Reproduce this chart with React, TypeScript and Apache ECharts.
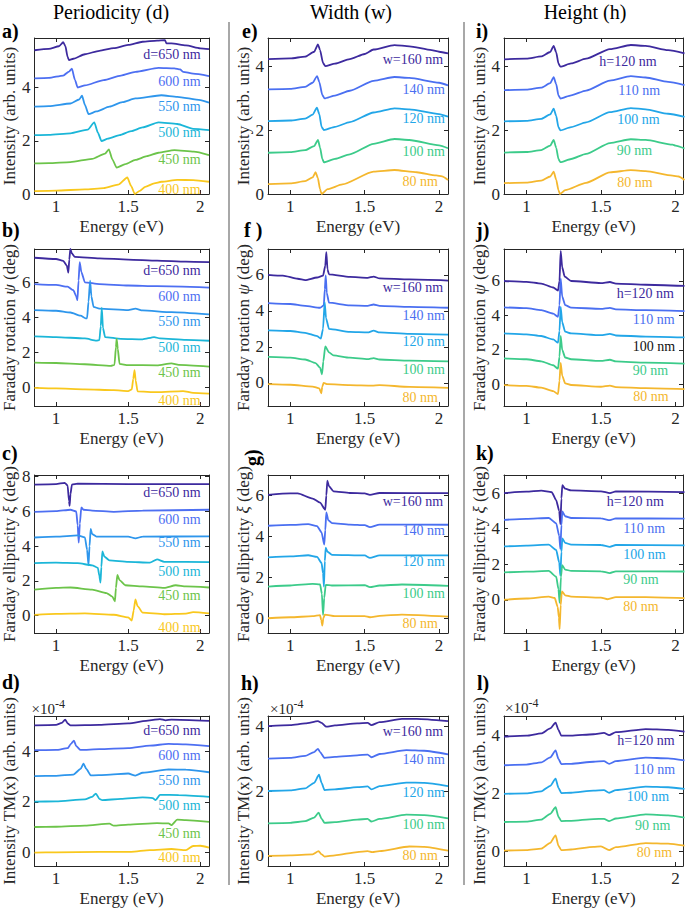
import React, { useEffect, useRef } from "react";
import * as echarts from "echarts";

const FONT = "Liberation Serif";
const INK = "#262626";

// ---------- tick labels / categories ----------
const xTicks = [1, 1.5, 2];
const yTicksInt = [0, 2, 4];
const yTicksFar = [0, 2, 4, 6];
const yTicksEllD = [0, 2, 4, 6, 8];
const dLabels = ["d=650 nm", "600 nm", "550 nm", "500 nm", "450 nm", "400 nm"];
const wLabels = ["w=160 nm", "140 nm", "120 nm", "100 nm", "80 nm"];
const hLabels = ["h=120 nm", "110 nm", "100 nm", "90 nm", "80 nm"];
const colTitles = ["Periodicity (d)", "Width (w)", "Height (h)"];
const colors6 = ["#3d2a9e", "#4d6ff2", "#2e96ec", "#1bb6d8", "#6cc44a", "#f9c81d"];
const colors5 = ["#3d2a9e", "#4a6ff1", "#22a6e8", "#3ccb8a", "#f4b72e"];

// ---------- panel a: intensity vs periodicity ----------
const a650 = [[0.85,5.4],[0.95,5.45],[1.02,5.55],[1.05,5.7],[1.065,5.55],[1.08,5.15],[1.09,5.03],[1.12,5.08],[1.2,5.25],[1.3,5.38],[1.4,5.48],[1.5,5.6],[1.6,5.72],[1.7,5.76],[1.755,5.78],[1.765,5.66],[1.8,5.66],[1.9,5.58],[2.0,5.47],[2.06,5.44]];
const a600 = [[0.85,4.34],[0.95,4.36],[1.05,4.45],[1.09,4.6],[1.11,4.71],[1.13,4.3],[1.15,4.0],[1.2,4.08],[1.33,4.28],[1.45,4.45],[1.55,4.59],[1.71,4.74],[1.82,4.72],[1.86,4.68],[1.88,4.59],[1.95,4.52],[2.06,4.43]];
const a550 = [[0.85,3.28],[0.95,3.3],[1.1,3.4],[1.16,3.55],[1.18,3.69],[1.2,3.35],[1.225,3.0],[1.28,3.1],[1.37,3.28],[1.46,3.45],[1.55,3.59],[1.73,3.71],[1.84,3.65],[2.0,3.53],[2.06,3.43]];
const a500 = [[0.85,2.21],[0.95,2.22],[1.1,2.28],[1.22,2.42],[1.265,2.69],[1.29,2.3],[1.315,1.99],[1.36,2.08],[1.44,2.21],[1.52,2.36],[1.6,2.5],[1.71,2.69],[1.84,2.63],[1.95,2.45],[2.06,2.4]];
const a450 = [[0.85,1.15],[0.95,1.16],[1.1,1.2],[1.25,1.32],[1.34,1.52],[1.366,1.68],[1.39,1.3],[1.42,0.99],[1.48,1.12],[1.55,1.28],[1.63,1.42],[1.71,1.55],[1.82,1.65],[1.955,1.59],[2.06,1.46]];
const a400 = [[0.85,0.11],[1.0,0.13],[1.2,0.17],[1.33,0.22],[1.43,0.35],[1.494,0.62],[1.52,0.3],[1.546,0.0],[1.58,0.12],[1.618,0.27],[1.68,0.4],[1.73,0.46],[1.84,0.53],[1.95,0.52],[2.06,0.46]];

// ---------- panel b: Faraday rotation vs periodicity ----------
const b650 = [[0.85,7.4],[1.0,7.33],[1.05,7.22],[1.075,6.95],[1.085,6.55],[1.092,7.3],[1.099,7.9],[1.11,7.65],[1.13,7.45],[1.3,7.37],[1.5,7.3],[1.7,7.24],[1.9,7.18],[2.06,7.15]];
const b600 = [[0.85,5.9],[1.0,5.85],[1.08,5.75],[1.12,5.55],[1.14,5.2],[1.148,4.98],[1.156,6.1],[1.164,7.15],[1.175,6.6],[1.2,6.0],[1.3,5.9],[1.5,5.82],[1.7,5.78],[2.06,5.7]];
const b550 = [[0.85,4.42],[1.0,4.38],[1.1,4.28],[1.17,4.1],[1.205,3.95],[1.215,3.95],[1.225,4.9],[1.236,6.1],[1.245,5.2],[1.26,4.6],[1.3,4.5],[1.5,4.42],[1.55,4.5],[1.6,4.4],[1.8,4.3],[2.06,4.17]];
const b500 = [[0.85,2.92],[1.0,2.88],[1.2,2.8],[1.28,2.68],[1.3,2.7],[1.31,3.5],[1.317,4.55],[1.325,3.4],[1.34,2.88],[1.45,2.78],[1.6,2.75],[1.68,2.88],[1.72,2.8],[1.9,2.72],[2.06,2.67]];
const b450 = [[0.85,1.42],[1.0,1.4],[1.2,1.33],[1.38,1.24],[1.405,1.3],[1.415,2.3],[1.42,2.78],[1.428,2.2],[1.44,1.35],[1.5,1.28],[1.7,1.27],[1.8,1.38],[1.85,1.3],[2.06,1.2]];
const b400 = [[0.85,-0.02],[1.0,-0.05],[1.2,-0.1],[1.4,-0.15],[1.5,-0.2],[1.525,-0.1],[1.535,0.5],[1.544,1.0],[1.552,0.4],[1.565,-0.22],[1.7,-0.26],[1.88,-0.2],[1.95,-0.3],[2.06,-0.35]];

// ---------- panel c: Faraday ellipticity vs periodicity ----------
const c650 = [[0.85,7.55],[1.0,7.58],[1.06,7.65],[1.08,7.5],[1.09,6.6],[1.094,6.32],[1.1,7.0],[1.11,7.55],[1.15,7.6],[1.5,7.58],[2.06,7.58]];
const c600 = [[0.85,5.98],[1.0,6.02],[1.1,6.1],[1.14,6.0],[1.15,5.2],[1.157,4.2],[1.165,5.3],[1.175,6.23],[1.19,6.1],[1.25,6.05],[1.4,5.98],[1.6,6.05],[2.06,6.1]];
const c550 = [[0.85,4.5],[1.0,4.55],[1.15,4.62],[1.2,4.5],[1.215,3.8],[1.225,2.9],[1.232,4.0],[1.24,4.99],[1.25,4.7],[1.28,4.55],[1.5,4.55],[1.55,4.45],[1.6,4.55],[2.06,4.57]];
const c500 = [[0.85,3.03],[1.0,3.05],[1.15,3.02],[1.25,2.9],[1.29,2.75],[1.3,2.3],[1.308,1.9],[1.314,2.8],[1.321,3.7],[1.335,3.4],[1.37,3.18],[1.5,3.1],[1.65,3.05],[1.7,3.24],[1.75,3.1],[2.06,3.08]];
const c450 = [[0.85,1.5],[1.0,1.6],[1.1,1.62],[1.25,1.5],[1.35,1.3],[1.39,1.1],[1.408,0.82],[1.415,1.6],[1.425,2.35],[1.44,2.05],[1.48,1.75],[1.6,1.68],[1.75,1.6],[1.83,1.75],[1.9,1.68],[2.06,1.62]];
const c400 = [[0.85,0.04],[1.0,0.1],[1.2,0.13],[1.4,0.05],[1.5,-0.1],[1.525,-0.28],[1.538,0.3],[1.55,0.93],[1.565,0.55],[1.6,0.17],[1.75,0.08],[1.9,0.12],[1.95,0.2],[2.06,0.13]];

// ---------- panel d: TM(x) intensity vs periodicity (x1e-4) ----------
const d650 = [[0.85,5.02],[1.0,5.04],[1.04,5.12],[1.063,5.25],[1.08,5.1],[1.1,5.02],[1.3,5.04],[1.5,5.1],[1.65,5.22],[1.72,5.27],[1.76,5.22],[1.8,5.25],[2.06,5.2]];
const d600 = [[0.85,4.04],[1.0,4.05],[1.08,4.12],[1.105,4.3],[1.124,4.42],[1.14,4.2],[1.17,4.05],[1.3,4.08],[1.5,4.12],[1.65,4.22],[1.78,4.29],[1.9,4.27],[2.06,4.2]];
const d550 = [[0.85,3.02],[1.0,3.03],[1.12,3.08],[1.17,3.3],[1.19,3.51],[1.21,3.3],[1.24,3.05],[1.35,3.07],[1.5,3.12],[1.55,3.04],[1.6,3.15],[1.78,3.28],[1.9,3.27],[2.06,3.17]];
const d500 = [[0.85,2.01],[1.0,2.02],[1.2,2.1],[1.25,2.2],[1.276,2.33],[1.3,2.12],[1.32,2.07],[1.45,2.12],[1.6,2.18],[1.67,2.15],[1.69,2.07],[1.72,2.28],[1.85,2.27],[2.06,2.2]];
const d450 = [[0.85,1.01],[1.0,1.02],[1.2,1.06],[1.37,1.14],[1.4,1.06],[1.5,1.1],[1.7,1.16],[1.78,1.15],[1.8,1.08],[1.84,1.3],[1.9,1.28],[2.06,1.21]];
const d400 = [[0.85,0.0],[1.0,0.01],[1.3,0.03],[1.52,0.03],[1.65,0.1],[1.8,0.14],[1.9,0.1],[1.95,0.26],[2.0,0.27],[2.06,0.2]];

// ---------- panel e: intensity vs width ----------
const e160 = [[0.85,4.22],[1.0,4.24],[1.1,4.3],[1.16,4.45],[1.186,4.68],[1.2,4.5],[1.22,4.1],[1.235,4.0],[1.3,4.08],[1.4,4.22],[1.5,4.38],[1.56,4.52],[1.7,4.66],[1.8,4.62],[1.95,4.5],[2.0,4.45],[2.06,4.4]];
const e140 = [[0.85,3.27],[1.0,3.29],[1.1,3.35],[1.15,3.48],[1.18,3.69],[1.195,3.5],[1.215,3.1],[1.23,2.99],[1.3,3.08],[1.4,3.23],[1.56,3.54],[1.7,3.66],[1.8,3.63],[2.0,3.48],[2.06,3.4]];
const e120 = [[0.85,2.28],[1.0,2.3],[1.1,2.36],[1.15,2.48],[1.179,2.7],[1.195,2.5],[1.21,2.1],[1.226,2.0],[1.3,2.1],[1.4,2.25],[1.56,2.55],[1.7,2.68],[1.8,2.65],[2.0,2.5],[2.06,2.42]];
const e100 = [[0.85,1.29],[1.0,1.31],[1.1,1.37],[1.16,1.5],[1.186,1.69],[1.2,1.45],[1.215,1.1],[1.226,0.99],[1.3,1.1],[1.4,1.24],[1.56,1.57],[1.7,1.72],[1.8,1.69],[2.0,1.52],[2.06,1.43]];
const e80 = [[0.85,0.31],[1.0,0.33],[1.1,0.4],[1.15,0.52],[1.17,0.68],[1.185,0.5],[1.2,0.15],[1.21,0.0],[1.25,0.15],[1.35,0.3],[1.56,0.7],[1.7,0.75],[1.85,0.68],[1.98,0.58],[2.02,0.55],[2.06,0.44]];

// ---------- panel f: Faraday rotation vs width ----------
const f160 = [[0.85,6.0],[0.95,5.95],[1.05,5.78],[1.1,5.7],[1.18,5.85],[1.22,5.95],[1.235,6.5],[1.242,7.25],[1.25,6.3],[1.26,6.02],[1.4,5.88],[1.52,5.83],[1.56,5.9],[1.6,5.8],[1.8,5.74],[2.06,5.68]];
const f140 = [[0.85,4.43],[1.0,4.38],[1.1,4.28],[1.2,4.17],[1.225,4.3],[1.232,5.2],[1.238,5.96],[1.245,5.0],[1.26,4.45],[1.4,4.3],[1.52,4.28],[1.56,4.35],[1.6,4.28],[1.8,4.22],[2.06,4.17]];
const f120 = [[0.85,2.92],[1.0,2.88],[1.1,2.78],[1.18,2.6],[1.205,2.46],[1.22,3.0],[1.231,4.48],[1.24,3.6],[1.26,3.0],[1.4,2.83],[1.52,2.8],[1.56,2.9],[1.6,2.8],[1.8,2.72],[2.06,2.68]];
const f100 = [[0.85,1.44],[1.0,1.4],[1.1,1.3],[1.17,1.1],[1.2,0.85],[1.213,0.48],[1.222,1.2],[1.235,2.03],[1.26,1.7],[1.29,1.53],[1.4,1.4],[1.52,1.32],[1.56,1.38],[1.6,1.3],[1.8,1.24],[2.06,1.2]];
const f80 = [[0.85,-0.07],[1.0,-0.1],[1.15,-0.2],[1.195,-0.3],[1.208,-0.58],[1.215,-0.2],[1.224,0.0],[1.25,-0.07],[1.4,-0.12],[1.55,-0.15],[1.6,-0.12],[1.8,-0.22],[2.06,-0.27]];

// ---------- panel g: Faraday ellipticity vs width ----------
const g160 = [[0.85,6.03],[1.0,6.1],[1.05,6.1],[1.15,5.85],[1.2,5.65],[1.235,5.3],[1.242,6.0],[1.249,6.73],[1.26,6.45],[1.29,6.2],[1.4,6.12],[1.5,6.1],[1.535,6.03],[1.6,6.12],[2.06,6.11]];
const g140 = [[0.85,4.52],[1.0,4.56],[1.12,4.6],[1.18,4.5],[1.21,4.2],[1.228,3.6],[1.235,4.3],[1.242,5.17],[1.255,4.8],[1.28,4.65],[1.4,4.58],[1.5,4.55],[1.535,4.45],[1.6,4.58],[2.06,4.57]];
const g120 = [[0.85,2.98],[1.0,3.02],[1.12,3.08],[1.18,3.0],[1.21,2.7],[1.22,2.2],[1.226,1.55],[1.232,2.8],[1.238,3.45],[1.25,3.25],[1.28,3.1],[1.5,3.07],[1.535,2.95],[1.6,3.07],[2.06,3.07]];
const g100 = [[0.85,1.55],[1.0,1.6],[1.15,1.68],[1.2,1.65],[1.212,1.2],[1.22,0.16],[1.228,1.0],[1.238,1.63],[1.28,1.6],[1.5,1.62],[1.535,1.52],[1.6,1.6],[1.75,1.65],[2.06,1.58]];
const g80 = [[0.85,0.0],[1.0,0.05],[1.15,0.1],[1.2,0.15],[1.208,-0.1],[1.215,-0.36],[1.222,0.0],[1.232,0.18],[1.3,0.1],[1.5,0.1],[1.535,0.05],[1.6,0.12],[1.75,0.18],[2.06,0.08]];

// ---------- panel h: TM(x) intensity vs width (x1e-4) ----------
const h160 = [[0.85,4.0],[1.0,4.03],[1.1,4.08],[1.186,4.15],[1.21,4.1],[1.242,3.98],[1.3,4.02],[1.45,4.08],[1.52,4.1],[1.545,4.03],[1.6,4.12],[1.75,4.22],[1.85,4.22],[2.06,4.15]];
const h140 = [[0.85,3.0],[1.0,3.02],[1.1,3.08],[1.16,3.2],[1.186,3.3],[1.2,3.2],[1.23,3.02],[1.3,3.05],[1.45,3.1],[1.52,3.12],[1.545,3.04],[1.6,3.14],[1.78,3.26],[1.9,3.24],[2.06,3.13]];
const h120 = [[0.85,2.0],[1.0,2.02],[1.1,2.08],[1.16,2.25],[1.193,2.5],[1.21,2.25],[1.23,2.03],[1.3,2.05],[1.45,2.12],[1.52,2.14],[1.545,2.05],[1.6,2.15],[1.78,2.26],[1.9,2.25],[2.06,2.15]];
const h100 = [[0.85,1.0],[1.0,1.02],[1.1,1.07],[1.16,1.18],[1.19,1.33],[1.21,1.15],[1.23,1.02],[1.3,1.04],[1.45,1.12],[1.52,1.14],[1.545,1.06],[1.6,1.14],[1.78,1.27],[1.9,1.26],[2.06,1.16]];
const h80 = [[0.85,0.0],[1.0,0.02],[1.15,0.05],[1.19,0.15],[1.21,0.05],[1.23,-0.02],[1.3,0.02],[1.45,0.12],[1.52,0.15],[1.55,0.12],[1.6,0.15],[1.8,0.29],[1.9,0.28],[2.06,0.16]];

// ---------- panel i: intensity vs height ----------
const i120 = [[0.85,4.23],[1.0,4.25],[1.1,4.32],[1.16,4.46],[1.183,4.65],[1.2,4.45],[1.215,4.1],[1.228,4.0],[1.3,4.1],[1.4,4.25],[1.56,4.55],[1.7,4.68],[1.8,4.65],[1.95,4.52],[2.06,4.42]];
const i110 = [[0.85,3.26],[1.0,3.28],[1.1,3.34],[1.16,3.48],[1.183,3.67],[1.2,3.45],[1.215,3.1],[1.228,3.0],[1.3,3.1],[1.4,3.25],[1.56,3.56],[1.7,3.7],[1.8,3.66],[1.95,3.52],[2.06,3.42]];
const i100 = [[0.85,2.28],[1.0,2.3],[1.1,2.36],[1.16,2.5],[1.183,2.68],[1.2,2.45],[1.215,2.1],[1.228,2.0],[1.3,2.1],[1.4,2.25],[1.56,2.57],[1.7,2.7],[1.8,2.66],[1.95,2.52],[2.06,2.42]];
const i90 = [[0.85,1.3],[1.0,1.32],[1.1,1.38],[1.16,1.52],[1.183,1.7],[1.2,1.45],[1.215,1.1],[1.228,1.0],[1.3,1.1],[1.4,1.26],[1.56,1.6],[1.7,1.72],[1.8,1.7],[1.98,1.55],[2.0,1.52],[2.06,1.43]];
const i80 = [[0.85,0.34],[1.0,0.36],[1.1,0.42],[1.16,0.55],[1.183,0.7],[1.2,0.45],[1.215,0.12],[1.225,0.0],[1.26,0.12],[1.4,0.35],[1.56,0.68],[1.7,0.75],[1.8,0.72],[1.98,0.58],[2.02,0.55],[2.06,0.44]];

// ---------- panel j: Faraday rotation vs height ----------
const j120 = [[0.85,6.0],[1.0,5.95],[1.1,5.85],[1.18,5.62],[1.212,5.44],[1.222,6.0],[1.23,7.75],[1.24,6.8],[1.257,6.25],[1.3,6.0],[1.5,5.88],[1.56,5.94],[1.6,5.85],[1.8,5.78],[2.06,5.71]];
const j110 = [[0.85,4.47],[1.0,4.42],[1.1,4.3],[1.18,4.1],[1.212,3.92],[1.222,4.6],[1.23,6.15],[1.24,5.1],[1.26,4.6],[1.3,4.45],[1.5,4.38],[1.56,4.44],[1.6,4.35],[1.8,4.3],[2.06,4.25]];
const j100 = [[0.85,2.95],[1.0,2.9],[1.1,2.8],[1.18,2.6],[1.212,2.41],[1.222,3.1],[1.23,4.5],[1.24,3.6],[1.26,3.05],[1.3,2.95],[1.5,2.85],[1.56,2.92],[1.6,2.83],[1.8,2.77],[2.06,2.72]];
const j90 = [[0.85,1.5],[1.0,1.45],[1.1,1.33],[1.18,1.1],[1.212,0.9],[1.222,1.6],[1.23,2.8],[1.24,2.0],[1.26,1.55],[1.3,1.45],[1.5,1.35],[1.56,1.42],[1.6,1.32],[1.8,1.25],[2.06,1.2]];
const j80 = [[0.85,-0.06],[1.0,-0.1],[1.1,-0.2],[1.18,-0.4],[1.212,-0.58],[1.222,0.2],[1.23,1.24],[1.24,0.5],[1.26,0.05],[1.3,-0.05],[1.5,-0.15],[1.56,-0.08],[1.6,-0.17],[1.8,-0.23],[2.06,-0.29]];

// ---------- panel k: Faraday ellipticity vs height ----------
const k120 = [[0.85,6.0],[1.0,6.08],[1.1,6.14],[1.17,6.05],[1.2,5.6],[1.22,5.0],[1.228,4.25],[1.235,5.7],[1.241,6.45],[1.26,6.25],[1.3,6.15],[1.5,6.1],[1.56,6.0],[1.6,6.1],[2.06,6.06]];
const k110 = [[0.85,4.5],[1.0,4.55],[1.15,4.6],[1.2,4.3],[1.22,3.6],[1.228,2.85],[1.235,4.2],[1.241,4.97],[1.26,4.7],[1.3,4.6],[1.5,4.58],[1.56,4.48],[1.6,4.58],[2.06,4.56]];
const k100 = [[0.85,3.0],[1.0,3.05],[1.15,3.1],[1.2,2.8],[1.22,2.1],[1.228,1.35],[1.235,2.7],[1.241,3.45],[1.26,3.2],[1.3,3.1],[1.5,3.08],[1.56,2.98],[1.6,3.08],[2.06,3.06]];
const k90 = [[0.85,1.54],[1.0,1.58],[1.15,1.62],[1.2,1.3],[1.215,0.6],[1.223,-0.17],[1.232,1.3],[1.24,1.95],[1.26,1.7],[1.3,1.62],[1.5,1.6],[1.56,1.5],[1.6,1.6],[2.06,1.59]];
const k80 = [[0.85,0.0],[1.0,0.07],[1.15,0.18],[1.19,0.1],[1.21,-0.4],[1.218,-1.0],[1.223,-1.65],[1.23,-0.3],[1.238,0.47],[1.26,0.25],[1.3,0.18],[1.5,0.12],[1.545,0.03],[1.6,0.15],[1.8,0.15],[2.06,0.09]];

// ---------- panel l: TM(x) intensity vs height (x1e-4) ----------
const l120 = [[0.85,3.97],[1.0,4.0],[1.1,4.08],[1.16,4.25],[1.196,4.45],[1.215,4.2],[1.234,4.0],[1.3,4.0],[1.45,4.05],[1.52,4.1],[1.555,4.02],[1.6,4.12],[1.8,4.23],[1.95,4.2],[2.06,4.14]];
const l110 = [[0.85,2.98],[1.0,3.0],[1.1,3.08],[1.16,3.25],[1.196,3.49],[1.215,3.2],[1.234,3.02],[1.3,3.03],[1.45,3.1],[1.52,3.12],[1.555,3.03],[1.6,3.12],[1.8,3.24],[1.95,3.22],[2.06,3.15]];
const l100 = [[0.85,1.99],[1.0,2.01],[1.1,2.08],[1.16,2.27],[1.196,2.52],[1.215,2.2],[1.234,2.02],[1.3,2.03],[1.45,2.1],[1.52,2.12],[1.555,2.03],[1.6,2.12],[1.8,2.24],[1.95,2.22],[2.06,2.16]];
const l90 = [[0.85,1.02],[1.0,1.03],[1.1,1.1],[1.16,1.3],[1.196,1.53],[1.215,1.2],[1.234,1.05],[1.3,1.06],[1.45,1.12],[1.52,1.13],[1.555,1.05],[1.6,1.14],[1.8,1.28],[1.95,1.25],[2.06,1.17]];
const l80 = [[0.85,0.03],[1.0,0.05],[1.1,0.1],[1.16,0.3],[1.196,0.56],[1.215,0.2],[1.234,0.05],[1.3,0.07],[1.45,0.16],[1.5,0.18],[1.555,0.05],[1.6,0.15],[1.8,0.29],[1.95,0.27],[2.06,0.2]];

// ---------- layout (pixels) ----------
const COLS = [
  { left: 29, width: 180 },
  { left: 268, width: 180 },
  { left: 504, width: 179 },
];
const ROWS = [
  { top: 38, height: 156 },
  { top: 249, height: 157 },
  { top: 475, height: 158 },
  { top: 716, height: 151 },
];

const Y_INT = "Intensity (arb. units)";
const Y_ROT = "Faraday rotation {i|ψ} (deg)";
const Y_ELL = "Faraday ellipticity {i|ξ} (deg)";
const Y_TM = "Intensity TM(x) (arb. units)";

type Panel = {
  col: number; row: number; xMax: number; yMin: number; yMax: number; yTicks: number[];
  yName: string; curves: number[][][]; colors: string[]; labels: string[];
  labelPos: number[][]; labelColors?: string[]; letter: string; letterPos: number[]; letterRot?: boolean;
  exp?: number[];
};

const lp1 = (ys: number[]) => ys.map((y, k) => [k === 0 ? 143.3 : 158.3, y]);
const lp2 = (ys: number[]) => ys.map((y, k) => [k === 0 ? 382.7 : 402.5, y]);

const panels: Panel[] = [
  { col: 0, row: 0, xMax: 2.06, yMin: 0, yMax: 5.86, yTicks: yTicksInt, yName: Y_INT, curves: [a650, a600, a550, a500, a450, a400], colors: colors6, labels: dLabels, labelPos: lp1([54, 81, 106.7, 132.7, 159.3, 189]), letter: "a)", letterPos: [2, 31] },
  { col: 0, row: 1, xMax: 2.06, yMin: -1.05, yMax: 7.9, yTicks: yTicksFar, yName: Y_ROT, curves: [b650, b600, b550, b500, b450, b400], colors: colors6, labels: dLabels, labelPos: lp1([270, 296.7, 321.7, 347.7, 372.7, 400]), letter: "b)", letterPos: [2, 230] },
  { col: 0, row: 2, xMax: 2.06, yMin: -1.0, yMax: 8.1, yTicks: yTicksEllD, yName: Y_ELL, curves: [c650, c600, c550, c500, c450, c400], colors: colors6, labels: dLabels, labelPos: lp1([492.3, 519, 542.3, 571.7, 595.7, 627.3]), letter: "c)", letterPos: [2, 453] },
  { col: 0, row: 3, xMax: 2.06, yMin: -0.53, yMax: 5.39, yTicks: yTicksInt, yName: Y_TM, curves: [d650, d600, d550, d500, d450, d400], colors: colors6, labels: dLabels, labelPos: lp1([730, 755, 780, 805, 833.3, 857.3]), letter: "d)", letterPos: [2, 682], exp: [31.5, 709] },
  { col: 1, row: 0, xMax: 2.06, yMin: 0, yMax: 4.88, yTicks: yTicksInt, yName: Y_INT, curves: [e160, e140, e120, e100, e80], colors: colors5, labels: wLabels, labelPos: lp2([59, 89.3, 118.3, 151, 181.7]), letter: "e)", letterPos: [242, 31] },
  { col: 1, row: 1, xMax: 2.06, yMin: -1.28, yMax: 7.43, yTicks: yTicksFar, yName: Y_ROT, curves: [f160, f140, f120, f100, f80], colors: colors5, labels: wLabels, labelPos: lp2([287.3, 315, 341.7, 369.3, 397.7]), letter: "f )", letterPos: [244, 230] },
  { col: 1, row: 2, xMax: 2.06, yMin: -0.72, yMax: 7.0, yTicks: yTicksFar, yName: Y_ELL, curves: [g160, g140, g120, g100, g80], colors: colors5, labels: wLabels, labelPos: lp2([501, 530, 561.7, 593.3, 623.3]), letter: "g)", letterPos: [243, 456], letterRot: true },
  { col: 1, row: 3, xMax: 2.06, yMin: -0.31, yMax: 4.31, yTicks: yTicksInt, yName: Y_TM, curves: [h160, h140, h120, h100, h80], colors: colors5, labels: wLabels, labelPos: lp2([731, 759.3, 792.7, 824.3, 855.7]), letter: "h)", letterPos: [241, 683], exp: [270, 709] },
  { col: 2, row: 0, xMax: 2.05, yMin: 0, yMax: 4.9, yTicks: yTicksInt, yName: Y_INT, curves: [i120, i110, i100, i90, i80], colors: colors5, labels: hLabels, labelPos: [[599.3, 61], [618.3, 90], [617.3, 119], [616.7, 150.7], [617.3, 182.7]], letter: "i)", letterPos: [476, 31] },
  { col: 2, row: 1, xMax: 2.05, yMin: -1.27, yMax: 7.86, yTicks: yTicksFar, yName: Y_ROT, curves: [j120, j110, j100, j90, j80], colors: colors5, labels: hLabels, labelPos: [[616.7, 293.3], [632.7, 319.3], [632.7, 346.7], [632.7, 370.7], [633.3, 396.7]], labelColors: [colors5[0], colors5[1], "#111111", colors5[3], colors5[4]], letter: "j)", letterPos: [476, 230] },
  { col: 2, row: 2, xMax: 2.05, yMin: -1.87, yMax: 7.02, yTicks: yTicksFar, yName: Y_ELL, curves: [k120, k110, k100, k90, k80], colors: colors5, labels: hLabels, labelPos: [[606.7, 501.7], [623.3, 528.3], [623.3, 554.3], [623.3, 579.3], [623.3, 606]], letter: "k)", letterPos: [476, 453] },
  { col: 2, row: 3, xMax: 2.05, yMin: -0.5, yMax: 4.68, yTicks: yTicksInt, yName: Y_TM, curves: [l120, l110, l100, l90, l80], colors: colors5, labels: hLabels, labelPos: [[617.3, 740.7], [633.3, 769.3], [626.7, 796], [635, 825], [636.7, 852.7]], letter: "l)", letterPos: [477, 683], exp: [505, 708] },
];

function buildOption() {
  const grid: any[] = [];
  const xAxis: any[] = [];
  const yAxis: any[] = [];
  const series: any[] = [];
  const graphic: any[] = [];
  const line = { color: INK, width: 1 };
  const txt = { fontFamily: FONT, fontSize: 17, color: INK };

  panels.forEach((p, i) => {
    const c = COLS[p.col];
    const r = ROWS[p.row];
    grid.push({ left: c.left, top: r.top, width: c.width, height: r.height, show: false, containLabel: false });
    const xBase = { gridIndex: i, type: "value", min: 0.85, max: p.xMax, splitLine: { show: false } };
    xAxis.push({
      ...xBase, position: "bottom",
      axisLine: { show: true, onZero: false, lineStyle: line },
      axisTick: { show: true, inside: true, length: 4, customValues: xTicks, lineStyle: line },
      axisLabel: { show: true, customValues: xTicks, formatter: (v: number) => String(v), margin: 4, ...txt },
      name: "Energy (eV)", nameLocation: "middle", nameGap: 24, nameTextStyle: { ...txt },
    });
    xAxis.push({
      ...xBase, position: "top",
      axisLine: { show: true, onZero: false, lineStyle: line },
      axisTick: { show: true, inside: true, length: 4, customValues: xTicks, lineStyle: line },
      axisLabel: { show: false },
    });
    const yBase = { gridIndex: i, type: "value", min: p.yMin, max: p.yMax, splitLine: { show: false } };
    yAxis.push({
      ...yBase, position: "left",
      axisLine: { show: true, onZero: false, lineStyle: line },
      axisTick: { show: true, inside: true, length: 4, customValues: p.yTicks, lineStyle: line },
      axisLabel: { show: true, customValues: p.yTicks, formatter: (v: number) => String(v), margin: 4, ...txt },
      name: p.yName, nameLocation: "middle", nameGap: 12, nameRotate: 90,
      nameTextStyle: { ...txt, rich: { i: { fontFamily: FONT, fontSize: 17, color: INK, fontStyle: "italic" } } },
    });
    yAxis.push({
      ...yBase, position: "right",
      axisLine: { show: true, onZero: false, lineStyle: line },
      axisTick: { show: true, inside: true, length: 4, customValues: p.yTicks, lineStyle: line },
      axisLabel: { show: false },
    });
    p.curves.forEach((data, k) => {
      series.push({
        type: "line", xAxisIndex: 2 * i, yAxisIndex: 2 * i, data,
        showSymbol: false, symbol: "none", smooth: 0.2, smoothMonotone: "x",
        lineStyle: { color: p.colors[k], width: 1.8 }, silent: true, clip: true, z: 2,
      });
    });
    p.labels.forEach((t, k) => {
      graphic.push({
        type: "text", x: p.labelPos[k][0], y: p.labelPos[k][1], z: 10,
        style: {
          text: t, fill: p.labelColors ? p.labelColors[k] : p.colors[k],
          fontFamily: FONT, fontSize: 14, align: "left", verticalAlign: "middle",
        },
      });
    });
    graphic.push({
      type: "text", x: p.letterPos[0] + (p.letterRot ? 9 : 0), y: p.letterPos[1] + (p.letterRot ? 10 : 0),
      rotation: p.letterRot ? Math.PI / 2 : 0, z: 10,
      style: {
        text: p.letter, fill: "#000", fontFamily: FONT, fontSize: 20, fontWeight: "bold",
        align: "left", verticalAlign: "middle",
      },
    });
    if (p.exp) {
      graphic.push({
        type: "text", x: p.exp[0], y: p.exp[1], z: 10,
        style: { text: "×10", fill: INK, fontFamily: FONT, fontSize: 15, align: "left", verticalAlign: "middle" },
      });
      graphic.push({
        type: "text", x: p.exp[0] + 23.5, y: p.exp[1] - 5, z: 10,
        style: { text: "-4", fill: INK, fontFamily: FONT, fontSize: 12, align: "left", verticalAlign: "middle" },
      });
    }
  });

  const titleX = [111, 351, 585];
  colTitles.forEach((t, k) => {
    graphic.push({
      type: "text", x: titleX[k], y: 12, z: 10,
      style: { text: t, fill: "#000", fontFamily: FONT, fontSize: 20, align: "center", verticalAlign: "middle" },
    });
  });
  [229, 464].forEach((x) => {
    graphic.push({
      type: "line", shape: { x1: x, y1: 22, x2: x, y2: 885 }, z: 1,
      style: { stroke: "#a8a8a8", lineWidth: 2 },
    });
  });

  return {
    animation: false,
    backgroundColor: "#ffffff",
    textStyle: { fontFamily: FONT },
    grid, xAxis, yAxis, series, graphic,
  };
}

export default function App() {
  const ref = useRef<HTMLDivElement>(null);
  useEffect(() => {
    if (!ref.current) return;
    const chart = echarts.init(ref.current, null, { renderer: "svg" });
    chart.setOption(buildOption() as any);
    return () => chart.dispose();
  }, []);
  return (
    <div
      ref={ref}
      style={{ position: "absolute", left: 0, top: 0, width: 685, height: 908, background: "#fff", fontFamily: FONT }}
    />
  );
}
